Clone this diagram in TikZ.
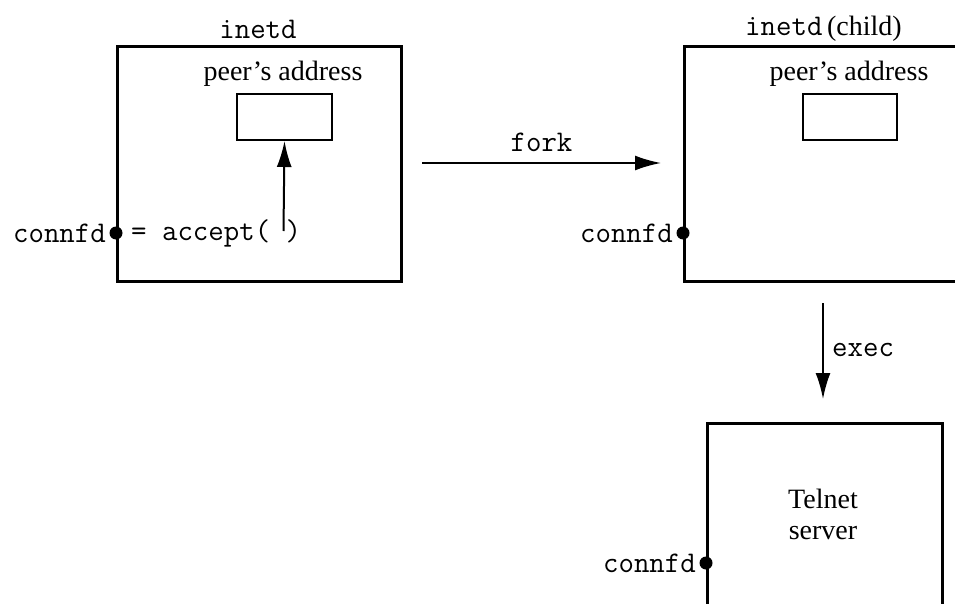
\documentclass[tikz,border=0pt]{standalone}
\usepackage{fontspec}
\setmainfont{Liberation Serif}
\usetikzlibrary{arrows.meta}
\begin{document}
\begin{tikzpicture}[x=1pt,y=-1pt,
  procbox/.style={draw,line width=2.6pt,inner sep=0pt,anchor=north west},
  membox/.style={draw,line width=2pt,inner sep=0pt,anchor=north west},
  dot/.style={circle,fill=black,inner sep=0pt,minimum size=13pt},
  mono/.style={font=\fontsize{30}{32}\selectfont\ttfamily,inner sep=0pt},
  serif/.style={font=\fontsize{28}{31}\selectfont,inner sep=0pt},
  arr/.style={line width=2pt,-{Latex[length=26pt,width=15pt]}}]
\useasboundingbox (0,0) rectangle (955,604);
\clip (0,0) rectangle (955,604);
% boxes
\node[procbox,minimum width=284pt,minimum height=235pt] (p1) at (116,45) {};
\node[procbox,minimum width=330pt,minimum height=235pt] (p2) at (683,45) {};
\node[procbox,minimum width=235pt,minimum height=240pt] (p3) at (706,422) {};
\node[membox,minimum width=95pt,minimum height=46pt] (m1) at (236,93) {};
\node[membox,minimum width=94pt,minimum height=46pt] (m2) at (802,93) {};
% titles
\node[mono] (t1) at (258,29) {inetd};
\node[anchor=base west,inner sep=0pt] (t2) at (745,36) {\fontsize{30}{32}\selectfont\ttfamily inetd\fontsize{28}{31}\selectfont\rmfamily\,(child)};
\node[serif] (a1) at (283,74) {peer’s address};
\node[serif] (a2) at (849,74) {peer’s address};
\node[serif,align=center] (tel) at (823,514) {Telnet\\server};
% descriptors
\node[dot] (d1) at (116,233) {};
\node[dot] (d2) at (683,233) {};
\node[dot] (d3) at (706,563) {};
\node[mono,anchor=east] (c1) at (106,233) {connfd};
\node[mono,anchor=east] (c2) at (673,233) {connfd};
\node[mono,anchor=east] (c3) at (696,563) {connfd};
\node[mono,anchor=west] (acc) at (131,233) {= accept( )};
% arrows
\coordinate (ua) at (283.5,231);
\draw[arr] (ua) -- (m1.south);
\coordinate (fa) at (422,163);
\coordinate (fb) at (661,163);
\draw[arr] (fa) -- (fb) node[mono,midway,above=10pt] (fk) {fork};
\coordinate (ea) at (823,303);
\coordinate (eb) at (823,399);
\draw[arr] (ea) -- (eb);
\node[mono,anchor=west] (ex) at (832,350) {exec};
\end{tikzpicture}
\end{document}
